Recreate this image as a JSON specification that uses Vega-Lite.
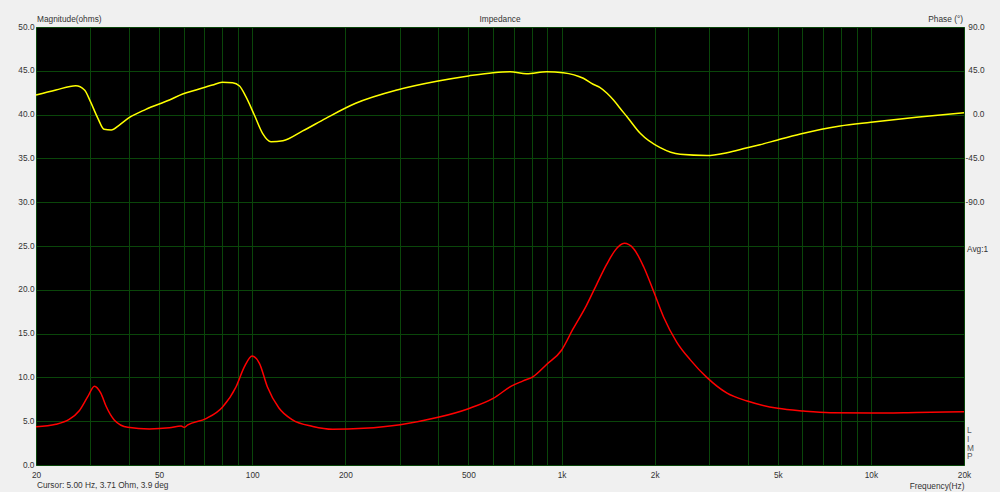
{
  "$schema": "https://vega.github.io/schema/vega-lite/v6.json",
  "width": 928,
  "height": 438,
  "autosize": {"type": "none"},
  "padding": {"left": 36, "top": 27, "right": 36, "bottom": 27},
  "background": "#f0f0f0",
  "config": {
    "view": {"fill": "#000000", "stroke": "#6e6e6e", "strokeWidth": 1},
    "font": "Liberation Sans",
    "text": {"font": "Liberation Sans", "fontSize": 8.3, "color": "#333333"},
    "axis": {
      "labelFont": "Liberation Sans",
      "labelFontSize": 8.3,
      "labelColor": "#333333",
      "titleFont": "Liberation Sans",
      "titleFontSize": 8.3,
      "titleColor": "#333333",
      "titleFontWeight": "normal",
      "ticks": false,
      "domain": false,
      "gridColor": "#0a460a",
      "gridOpacity": 1,
      "gridWidth": 1
    }
  },
  "datasets": {
    "mag": [
      {"f": 20, "ohm": 4.37}, {"f": 23.2, "ohm": 4.65}, {"f": 25.6, "ohm": 5.2}, {"f": 27.6, "ohm": 6.2},
      {"f": 29.4, "ohm": 7.8}, {"f": 30.9, "ohm": 9.0}, {"f": 32.4, "ohm": 8.2}, {"f": 33.7, "ohm": 6.7},
      {"f": 35.8, "ohm": 5.15}, {"f": 39.6, "ohm": 4.3}, {"f": 46.5, "ohm": 4.12}, {"f": 54, "ohm": 4.25},
      {"f": 58.9, "ohm": 4.45}, {"f": 60.2, "ohm": 4.3}, {"f": 61.9, "ohm": 4.57}, {"f": 70.9, "ohm": 5.3},
      {"f": 80.1, "ohm": 6.6}, {"f": 88.6, "ohm": 8.9}, {"f": 94.3, "ohm": 11.2}, {"f": 99.9, "ohm": 12.45},
      {"f": 105.5, "ohm": 11.6}, {"f": 112, "ohm": 8.9}, {"f": 122, "ohm": 6.5}, {"f": 135, "ohm": 5.15},
      {"f": 157, "ohm": 4.4}, {"f": 182, "ohm": 4.08}, {"f": 229, "ohm": 4.19}, {"f": 301, "ohm": 4.6},
      {"f": 399, "ohm": 5.44}, {"f": 500, "ohm": 6.43}, {"f": 601, "ohm": 7.6}, {"f": 688, "ohm": 9.0},
      {"f": 751, "ohm": 9.6}, {"f": 810, "ohm": 10.1}, {"f": 896, "ohm": 11.5}, {"f": 1000, "ohm": 13.1},
      {"f": 1088, "ohm": 15.5}, {"f": 1203, "ohm": 18.2}, {"f": 1298, "ohm": 20.6}, {"f": 1399, "ohm": 22.9},
      {"f": 1490, "ohm": 24.5}, {"f": 1595, "ohm": 25.3}, {"f": 1710, "ohm": 24.7}, {"f": 1844, "ohm": 22.6},
      {"f": 1985, "ohm": 19.8}, {"f": 2137, "ohm": 16.9}, {"f": 2359, "ohm": 14.0}, {"f": 2608, "ohm": 12.0},
      {"f": 2948, "ohm": 10.0}, {"f": 3428, "ohm": 8.2}, {"f": 3983, "ohm": 7.3}, {"f": 5000, "ohm": 6.47},
      {"f": 6056, "ohm": 6.16}, {"f": 7380, "ohm": 5.97}, {"f": 10000, "ohm": 5.94}, {"f": 14040, "ohm": 6.0},
      {"f": 20000, "ohm": 6.08}
    ],
    "phase": [
      {"f": 20, "deg": 20.1}, {"f": 23.2, "deg": 25.3}, {"f": 26.9, "deg": 29.7}, {"f": 28.7, "deg": 25.3},
      {"f": 30, "deg": 13.3}, {"f": 31.7, "deg": -3.8}, {"f": 33.2, "deg": -15.1}, {"f": 35, "deg": -15.8},
      {"f": 37.2, "deg": -10.7}, {"f": 40, "deg": -3.2}, {"f": 45.3, "deg": 5.4}, {"f": 54, "deg": 15.0},
      {"f": 59.6, "deg": 21.2}, {"f": 65.8, "deg": 25.3}, {"f": 74.4, "deg": 30.4}, {"f": 80, "deg": 33.2},
      {"f": 86.4, "deg": 32.8}, {"f": 91, "deg": 29.4}, {"f": 95.4, "deg": 18.4}, {"f": 101.6, "deg": -0.4},
      {"f": 108, "deg": -19.2}, {"f": 115, "deg": -27.8}, {"f": 125.7, "deg": -26.8}, {"f": 145.6, "deg": -16.8},
      {"f": 173, "deg": -3.8}, {"f": 216, "deg": 11.6}, {"f": 294, "deg": 25.3}, {"f": 399, "deg": 34.5},
      {"f": 500, "deg": 39.7}, {"f": 601, "deg": 43.1}, {"f": 682, "deg": 44.1}, {"f": 770, "deg": 42.0},
      {"f": 896, "deg": 44.1}, {"f": 1012, "deg": 43.1}, {"f": 1176, "deg": 37.3}, {"f": 1265, "deg": 31.2},
      {"f": 1329, "deg": 28.0}, {"f": 1400, "deg": 22.2}, {"f": 1472, "deg": 15.0}, {"f": 1546, "deg": 6.5},
      {"f": 1628, "deg": -2.2}, {"f": 1796, "deg": -19.2}, {"f": 2084, "deg": -34.0}, {"f": 2418, "deg": -40.8},
      {"f": 2948, "deg": -42.0}, {"f": 3428, "deg": -39.1}, {"f": 3983, "deg": -34.0}, {"f": 4376, "deg": -31.0},
      {"f": 5000, "deg": -26.0}, {"f": 5916, "deg": -20.0}, {"f": 7950, "deg": -11.7}, {"f": 10000, "deg": -7.9},
      {"f": 14040, "deg": -2.8}, {"f": 20000, "deg": 2.0}
    ]
  },
  "layer": [
    {
      "layer": [
        {
          "data": {"name": "mag"},
          "mark": {"type": "line", "color": "#ff0000", "strokeWidth": 1.5, "interpolate": "monotone"},
          "encoding": {
            "x": {
              "field": "f", "type": "quantitative",
              "scale": {"type": "log", "domain": [20, 20000], "nice": false},
              "axis": {
                "values": [20, 30, 40, 50, 60, 70, 80, 90, 100, 200, 300, 400, 500, 600, 700, 800, 900, 1000, 2000, 3000, 4000, 5000, 6000, 7000, 8000, 9000, 10000, 20000],
                "labelExpr": "indexof([20,50,100,200,500,1000,2000,5000,10000,20000], datum.value) >= 0 ? (datum.value >= 1000 ? (datum.value / 1000) + 'k' : '' + datum.value) : ''",
                "grid": true,
                "labelPadding": 5,
                "labelFlush": false,
                "labelOverlap": false,
                "labelBound": false,
                "title": "Frequency(Hz)",
                "titleAnchor": "end",
                "titleAlign": "right",
                "titlePadding": 3
              }
            },
            "y": {
              "field": "ohm", "type": "quantitative",
              "scale": {"domain": [0, 50], "nice": false},
              "axis": {
                "orient": "left",
                "values": [0, 5, 10, 15, 20, 25, 30, 35, 40, 45, 50],
                "format": ".1f",
                "grid": true,
                "labelPadding": 2,
                "title": null
              }
            }
          }
        },
        {
          "data": {"values": [{"f": 20, "ohm": 50}]},
          "mark": {"type": "text", "text": "Magnitude(ohms)", "align": "left", "baseline": "middle", "dx": 1, "dy": -7},
          "encoding": {"x": {"field": "f", "type": "quantitative"}, "y": {"field": "ohm", "type": "quantitative"}}
        },
        {
          "data": {"values": [{"f": 632.46, "ohm": 50}]},
          "mark": {"type": "text", "text": "Impedance", "align": "center", "baseline": "middle", "dy": -7},
          "encoding": {"x": {"field": "f", "type": "quantitative"}, "y": {"field": "ohm", "type": "quantitative"}}
        },
        {
          "data": {"values": [{"f": 20000, "ohm": 50}]},
          "mark": {"type": "text", "text": "Phase (°)", "align": "right", "baseline": "middle", "dx": -1, "dy": -7},
          "encoding": {"x": {"field": "f", "type": "quantitative"}, "y": {"field": "ohm", "type": "quantitative"}}
        },
        {
          "data": {"values": [{"f": 20, "ohm": 0}]},
          "mark": {"type": "text", "text": "Cursor: 5.00 Hz, 3.71 Ohm, 3.9 deg", "align": "left", "baseline": "middle", "dx": 1, "dy": 21},
          "encoding": {"x": {"field": "f", "type": "quantitative"}, "y": {"field": "ohm", "type": "quantitative"}}
        },
        {
          "data": {"values": [{"f": 20000, "ohm": 25}]},
          "mark": {"type": "text", "text": "Avg:1", "align": "left", "baseline": "middle", "dx": 3, "dy": 4},
          "encoding": {"x": {"field": "f", "type": "quantitative"}, "y": {"field": "ohm", "type": "quantitative"}}
        },
        {
          "data": {"values": [{"f": 20000, "ohm": 5}]},
          "mark": {"type": "text", "text": ["L", "I", "M", "P"], "align": "left", "baseline": "top", "dx": 3, "dy": 5, "lineHeight": 8.7, "color": "#555555"},
          "encoding": {"x": {"field": "f", "type": "quantitative"}, "y": {"field": "ohm", "type": "quantitative"}}
        }
      ]
    },
    {
      "data": {"name": "phase"},
      "mark": {"type": "line", "color": "#ffff00", "strokeWidth": 1.5, "interpolate": "monotone"},
      "encoding": {
        "x": {"field": "f", "type": "quantitative"},
        "y": {
          "field": "deg", "type": "quantitative",
          "scale": {"domain": [-360, 90], "nice": false, "zero": false},
          "axis": {
            "orient": "right",
            "values": [90, 45, 0, -45, -90],
            "labelExpr": "(datum.value < 0 ? '-' : '') + format(abs(datum.value), '.1f')",
            "grid": false,
            "labelAlign": "right",
            "labelPadding": 20,
            "labelBound": false,
            "labelFlush": false,
            "title": null
          }
        }
      }
    }
  ],
  "resolve": {"scale": {"y": "independent"}, "axis": {"y": "independent"}}
}
